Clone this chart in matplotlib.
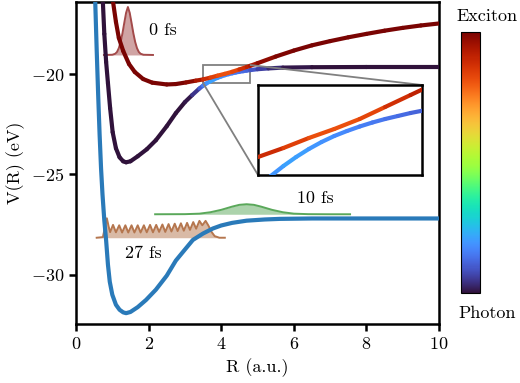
import matplotlib
matplotlib.use("Agg")
import matplotlib.pyplot as plt
import numpy as np
from matplotlib.collections import LineCollection
from mpl_toolkits.axes_grid1.inset_locator import mark_inset

plt.rcParams['font.family'] = 'serif'
plt.rcParams['font.serif'] = ['cmr10']
plt.rcParams['mathtext.fontset'] = 'cm'
plt.rcParams['axes.formatter.use_mathtext'] = True
plt.rcParams['axes.unicode_minus'] = True

# ground state potential (eV vs a.u.)
r_gs = [0.53, 0.57, 0.61, 0.65, 0.69, 0.73, 0.78, 0.83, 0.88, 0.93, 1.0, 1.1, 1.2, 1.3, 1.38,
        1.5, 1.7, 1.93, 2.2, 2.5, 2.75, 3.0, 3.22, 3.5, 3.77, 4.0, 4.3, 4.7, 5.2, 5.62, 6.5, 8.0, 10.0]
v_gs = [-16.4, -18.8, -21.0, -23.0, -24.7, -26.0, -27.3, -28.3, -29.5, -30.35, -31.0, -31.5, -31.75,
        -31.88, -31.92, -31.86, -31.62, -31.26, -30.75, -30.05, -29.3, -28.75, -28.27, -27.95, -27.7,
        -27.55, -27.42, -27.31, -27.25, -27.22, -27.2, -27.2, -27.2]

# lower polariton (mostly photon)
r_lp = [0.74, 0.78, 0.83, 0.88, 0.94, 1.01, 1.1, 1.2, 1.3, 1.38, 1.5, 1.7, 1.95, 2.2, 2.5, 2.75,
        3.0, 3.2, 3.4, 3.5, 3.6, 3.7, 3.8, 3.9, 4.0, 4.1, 4.2, 4.3, 4.4, 4.5, 4.6, 4.7, 4.8, 5.0,
        5.3, 5.7, 6.5, 8.0, 10.0]
v_lp = [-16.4, -18.0, -19.4, -20.45, -21.7, -22.9, -23.7, -24.15, -24.35, -24.4, -24.35, -24.1,
        -23.75, -23.3, -22.6, -21.95, -21.4, -21.05, -20.72, -20.58, -20.46, -20.36, -20.27, -20.19,
        -20.12, -20.06, -20.01, -19.965, -19.925, -19.89, -19.86, -19.83, -19.805, -19.76, -19.72,
        -19.68, -19.66, -19.65, -19.65]
x_lp = [0, 0, 0, 0, 0, 0, 0, 0, 0, 0, 0, 0, 0, 0, 0, 0, 0, 0.02, 0.08, 0.13, 0.18, 0.21, 0.21,
        0.2, 0.19, 0.18, 0.17, 0.16, 0.15, 0.14, 0.13, 0.12, 0.11, 0.08, 0.05, 0.02, 0, 0, 0]

# upper polariton (mostly exciton)
r_up = [1.02, 1.1, 1.18, 1.3, 1.46, 1.62, 1.85, 2.1, 2.5, 2.75, 3.03, 3.3, 3.5, 3.7, 3.9, 4.1,
        4.3, 4.5, 4.7, 4.8, 5.0, 5.5, 6.0, 6.5, 7.0, 7.5, 8.0, 8.5, 9.0, 9.5, 10.0]
v_up = [-16.4, -17.4, -18.2, -18.85, -19.5, -19.9, -20.25, -20.43, -20.52, -20.5, -20.42, -20.33,
        -20.27, -20.18, -20.08, -19.99, -19.89, -19.77, -19.65, -19.59, -19.46, -19.13, -18.83,
        -18.57, -18.36, -18.17, -18.0, -17.84, -17.7, -17.58, -17.48]
x_up = [1, 1, 1, 1, 1, 1, 1, 1, 1, 1, 1, 0.96, 0.91, 0.86, 0.83, 0.81, 0.82, 0.85, 0.9, 0.92,
        0.96, 0.99, 1, 1, 1, 1, 1, 1, 1, 1, 1]

# wavepackets: positions, heights above baseline, baseline energy
r_wp0 = [0.77, 1.0, 1.08, 1.13, 1.18, 1.23, 1.28, 1.33, 1.38, 1.43, 1.48, 1.53, 1.58, 1.63, 1.68,
         1.73, 1.78, 1.86, 2.12]
h_wp0 = [0, 0.01, 0.06, 0.15, 0.34, 0.65, 1.08, 1.6, 2.1, 2.39, 2.1, 1.6, 1.08, 0.65, 0.34, 0.15,
         0.06, 0.01, 0]
base_wp0 = -19.05

r_wp10 = [2.18, 3.0, 3.4, 3.7, 4.0, 4.3, 4.5, 4.7, 4.9, 5.1, 5.4, 5.7, 6.0, 6.4, 7.0, 7.55]
h_wp10 = [0, 0.005, 0.03, 0.1, 0.22, 0.38, 0.47, 0.5, 0.47, 0.38, 0.22, 0.1, 0.03, 0.005, 0, 0]
base_wp10 = -26.99

r_wp27 = [0.57, 0.74, 0.79, 0.85, 0.90, 0.94, 1.02, 1.10, 1.19, 1.27, 1.36, 1.44, 1.53, 1.61, 1.70,
          1.78, 1.87, 1.95, 2.04, 2.12, 2.21, 2.29, 2.38, 2.46, 2.55, 2.63, 2.72, 2.80, 2.89, 2.97,
          3.06, 3.14, 3.23, 3.31, 3.40, 3.48, 3.57, 3.65, 3.73, 3.82, 3.95, 4.10]
h_wp27 = [0, 0.03, 0.45, 0.97, 0.55, 0.28, 0.64, 0.27, 0.62, 0.26, 0.62, 0.26, 0.62, 0.26, 0.62,
          0.26, 0.62, 0.27, 0.64, 0.27, 0.64, 0.29, 0.66, 0.29, 0.68, 0.31, 0.7, 0.33, 0.72, 0.35,
          0.74, 0.39, 0.78, 0.45, 0.84, 0.62, 0.84, 0.6, 0.3, 0.08, 0, 0]
base_wp27 = -28.16

packets = [
    (r_wp0, h_wp0, base_wp0, '#a34a4a'),
    (r_wp10, h_wp10, base_wp10, '#5aa85a'),
    (r_wp27, h_wp27, base_wp27, '#b5764e'),
]


def colored_line(ax, r, v, frac, lw=3.0):
    pts = np.column_stack([r, v])
    segs = np.stack([pts[:-1], pts[1:]], axis=1)
    frac = np.asarray(frac, dtype=float)
    lc = LineCollection(segs, cmap='turbo', norm=plt.Normalize(0, 1), linewidths=lw,
                        capstyle='round', joinstyle='round', zorder=3)
    lc.set_array(0.5 * (frac[:-1] + frac[1:]))
    ax.add_collection(lc)


fig = plt.figure(figsize=(5.2, 3.83), dpi=100)
ax = fig.add_axes([76 / 520, 1 - 324 / 383, 363 / 520, 322 / 383])

for r, h, base, col in packets:
    r = np.asarray(r)
    top = base + np.asarray(h)
    ax.fill_between(r, base, top, color=col, alpha=0.5, lw=0, zorder=1)
    ax.plot(r, top, color=col, lw=1.4, zorder=2)

ax.plot(r_gs, v_gs, color='#2a7ab9', lw=3.0, zorder=3, solid_capstyle='round')
colored_line(ax, r_lp, v_lp, x_lp)
colored_line(ax, r_up, v_up, x_up)

ax.text(2.0, -17.8, '0 fs', fontsize=13, va='center')
ax.text(6.58, -26.19, '10 fs', fontsize=13, ha='center', va='center')
ax.text(1.85, -28.92, '27 fs', fontsize=13, ha='center', va='center')

ax.set_xlim(0, 10)
ax.set_ylim(-32.46, -16.41)
ax.set_xticks([0, 2, 4, 6, 8, 10])
ax.set_yticks([-30, -25, -20])
ax.tick_params(labelsize=13, width=1.8, length=5)
for sp in ax.spines.values():
    sp.set_linewidth(1.8)
ax.set_xlabel('R (a.u.)', fontsize=13, labelpad=5)
ax.set_ylabel('V(R) (eV)', fontsize=13, labelpad=4)

# inset zoom on the avoided crossing
axins = fig.add_axes([258 / 520, 1 - 175 / 383, 164 / 520, 90 / 383])
colored_line(axins, r_lp, v_lp, x_lp)
colored_line(axins, r_up, v_up, x_up)
axins.set_xlim(3.5, 4.79)
axins.set_ylim(-20.45, -19.55)
axins.set_xticks([])
axins.set_yticks([])
for sp in axins.spines.values():
    sp.set_linewidth(1.8)
mark_inset(ax, axins, loc1=1, loc2=3, fc='none', ec='0.5', lw=1.3)

# colour bar: photon -> exciton character
cax = fig.add_axes([461 / 520, 1 - 293 / 383, 19 / 520, 261 / 383])
cb = fig.colorbar(plt.cm.ScalarMappable(norm=plt.Normalize(0, 1), cmap='turbo'), cax=cax)
cb.set_ticks([])
cb.outline.set_linewidth(0.8)
fig.text(487 / 520, 1 - 16 / 383, 'Exciton', fontsize=13, ha='center', va='center')
fig.text(487 / 520, 1 - 313 / 383, 'Photon', fontsize=13, ha='center', va='center')

fig.savefig('out.png', dpi=100)
